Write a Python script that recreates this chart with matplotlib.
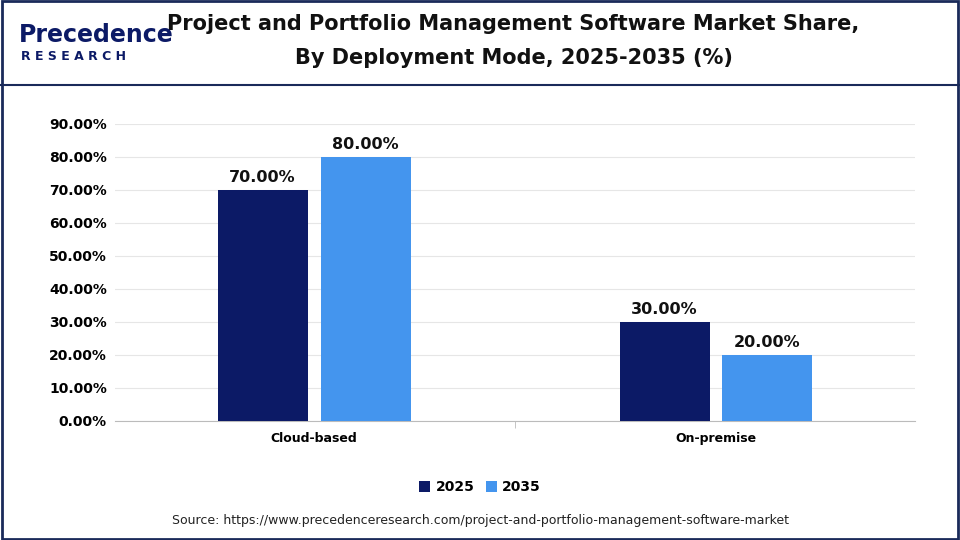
import numpy as np
import matplotlib.pyplot as plt
from matplotlib.patches import Rectangle

categories = ["Cloud-based", "On-premise"]
years = ["2025", "2035"]
share_2025 = [70.0, 30.0]
share_2035 = [80.0, 20.0]
yticks = [0, 10, 20, 30, 40, 50, 60, 70, 80, 90]

navy = "#0c1a66"
blue = "#4495ee"

fig = plt.figure(figsize=(9.6, 5.4), dpi=100)
fig.patch.set_facecolor("white")

# frame and header line
fig.add_artist(Rectangle((0.002, 0.002), 0.996, 0.996, transform=fig.transFigure,
                         fill=False, edgecolor="#1a2a5a", linewidth=2))
fig.add_artist(plt.Line2D([0.0, 1.0], [0.842, 0.842], transform=fig.transFigure,
                          color="#1a2a5a", linewidth=1.5))

fig.text(0.535, 0.955, "Project and Portfolio Management Software Market Share,",
         ha="center", va="center", fontsize=15, fontweight="bold", color="#111111")
fig.text(0.535, 0.893, "By Deployment Mode, 2025-2035 (%)",
         ha="center", va="center", fontsize=15, fontweight="bold", color="#111111")

# logo
fig.text(0.02, 0.935, "Precedence", ha="left", va="center", fontsize=17,
         fontweight="bold", color=navy)
fig.text(0.022, 0.895, "R E S E A R C H", ha="left", va="center", fontsize=9,
         fontweight="bold", color=navy)

ax = fig.add_axes([0.12, 0.2204, 0.833, 0.55])
x = np.arange(len(categories))
w = 0.224
off = 0.128
b1 = ax.bar(x - off, share_2025, w, color=navy, label=years[0], zorder=3)
b2 = ax.bar(x + off, share_2035, w, color=blue, label=years[1], zorder=3)
for bars in (b1, b2):
    for r in bars:
        ax.text(r.get_x() + r.get_width() / 2, r.get_height() + 1.5,
                f"{r.get_height():.2f}%", ha="center", va="bottom",
                fontsize=11.5, fontweight="bold", color="#111111")

ax.set_xlim(-0.495, 1.495)
ax.set_ylim(0, 90)
ax.set_yticks(yticks)
ax.set_yticklabels([f"{v:.2f}%" for v in yticks], fontsize=10, fontweight="bold")
ax.set_xticks(x)
ax.set_xticklabels(categories, fontsize=9, fontweight="bold")
ax.set_xticks([0.5], minor=True)
ax.tick_params(axis="x", which="major", length=0, pad=8)
ax.tick_params(axis="x", which="minor", length=5, color="#bbbbbb")
ax.tick_params(axis="y", length=0, pad=6)
ax.grid(axis="y", color="#e6e6e6", linewidth=0.8, zorder=0)
for s in ("top", "right", "left"):
    ax.spines[s].set_visible(False)
ax.spines["bottom"].set_color("#bbbbbb")

fig.legend(handles=[b1, b2], labels=years, loc="center", bbox_to_anchor=(0.5, 0.098),
           ncol=2, frameon=False, prop={"size": 10, "weight": "bold"},
           handlelength=0.8, handleheight=0.8, columnspacing=0.8, handletextpad=0.4)

fig.text(0.5, 0.037,
         "Source: https://www.precedenceresearch.com/project-and-portfolio-management-software-market",
         ha="center", va="center", fontsize=9, color="#222222")

fig.savefig("out.png", dpi=100)
